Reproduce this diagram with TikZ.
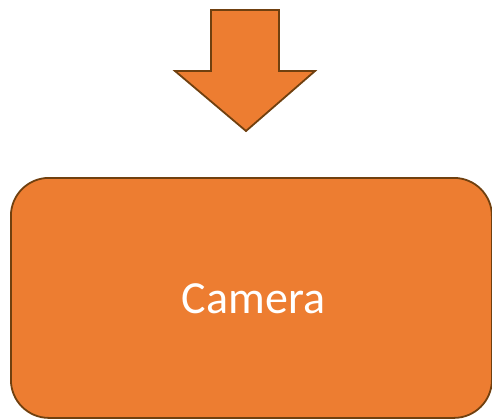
\documentclass[tikz,border=0pt]{standalone}
\usepackage{fontspec}
\setmainfont{Carlito}
\definecolor{orangefill}{HTML}{ED7D31}
\definecolor{brownline}{HTML}{70400F}
\begin{document}
\begin{tikzpicture}[x=1pt,y=-1pt,
  shapestyle/.style={fill=orangefill,draw=brownline,line width=1.8pt,line join=miter}]
\useasboundingbox (0,0) rectangle (492,418);
\draw[shapestyle] (211,10) -- (279,10) -- (279,71) -- (315,71) -- (246,131) -- (175,71) -- (211,71) -- cycle;
\node[shapestyle,rounded corners=38pt,minimum width=481pt,minimum height=240pt,inner sep=0pt,anchor=north west] (camera) at (10,177) {};
\node[text=white,font=\fontsize{46}{50}\selectfont,anchor=base] (label) at (253.5,313) {Camera};
\end{tikzpicture}
\end{document}
